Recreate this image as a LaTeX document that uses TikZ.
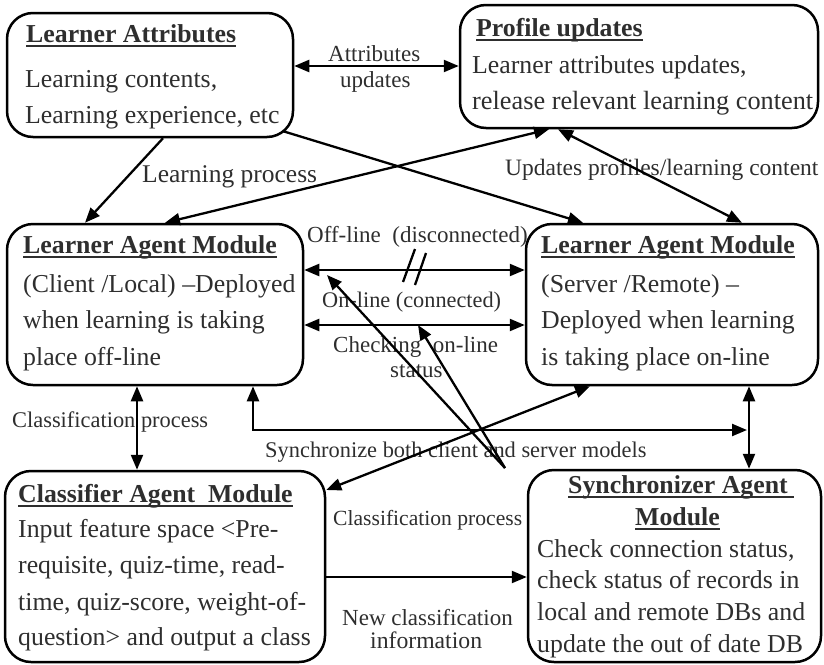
\documentclass[tikz,border=0pt]{standalone}
\usepackage{fontspec}
\setmainfont{Liberation Serif}
\usetikzlibrary{arrows.meta,calc}
\definecolor{inkgray}{gray}{0.18}
% bold heading with a flat underline just under the baseline
\newcommand\uhead[1]{\setbox0\hbox{\bfseries #1}\rlap{\rule[-4.6pt]{\wd0}{1.6pt}}\box0}
\tikzset{
  box/.style={draw, line width=2.5pt, rounded corners=26pt, rectangle, inner sep=0pt},
  tx/.style={anchor=base west, inner sep=0pt, text=inkgray, font=\fontsize{25.8}{30}\selectfont},
  lb/.style={anchor=base west, inner sep=0pt, text=inkgray, font=\fontsize{23}{28}\selectfont},
  link/.style={line width=2.3pt},
  oneway/.style={-{Triangle[length=15pt,width=12pt]}},
  twoway/.style={{Triangle[length=15pt,width=12pt]}-{Triangle[length=15pt,width=12pt]}}
}
\begin{document}
\begin{tikzpicture}[x=1pt,y=-1pt]
\useasboundingbox (0,0) rectangle (824,664);

% ---------- boxes ----------
\node[box, minimum width=286pt, minimum height=124pt] (la) at (150,75) {};
\node[box, minimum width=358pt, minimum height=123pt] (pu) at (639,66.5) {};
\node[box, minimum width=296pt, minimum height=161pt] (cl) at (155,304.5) {};
\node[box, minimum width=292pt, minimum height=161pt] (sv) at (672,304.5) {};
\node[box, minimum width=320pt, minimum height=191pt] (ca) at (165,566.5) {};
\node[box, minimum width=293pt, minimum height=192pt] (sy) at (674.5,566) {};

% ---------- box texts ----------
\node[tx] (la-h) at (26,42) {\uhead{Learner Attributes}};
\node[tx] (la-1) at (25,87) {Learning contents,};
\node[tx] (la-2) at (25,123) {Learning experience, etc};

\node[tx] (pu-h) at (476,36) {\uhead{Profile updates}};
\node[tx] (pu-1) at (472,73) {Learner attributes updates,};
\node[tx, font=\fontsize{26.3}{30}\selectfont] (pu-2) at (472,109) {release relevant learning content};

\node[tx] (cl-h) at (23,253) {\uhead{Learner Agent Module}};
\node[tx] (cl-1) at (23,292) {(Client /Local) --Deployed};
\node[tx] (cl-2) at (23,328) {when learning is taking};
\node[tx] (cl-3) at (23,365) {place off-line};

\node[tx] (sv-h) at (541,253) {\uhead{Learner Agent Module}};
\node[tx] (sv-1) at (541,292) {(Server /Remote) --};
\node[tx] (sv-2) at (541,328) {Deployed when learning};
\node[tx] (sv-3) at (541,365) {is taking place on-line};

\node[tx] (ca-h) at (18,502) {\uhead{Classifier Agent~~Module}};
\node[tx] (ca-1) at (18,537) {Input feature space <Pre-};
\node[tx] (ca-2) at (18,573) {requisite, quiz-time, read-};
\node[tx] (ca-3) at (18,610) {time, quiz-score, weight-of-};
\node[tx] (ca-4) at (18,645) {question> and output a class};

\node[tx] (sy-h1) at (568,493) {\uhead{Synchronizer Agent\ }};
\node[tx] (sy-h2) at (635,525) {\uhead{Module}};
\node[tx] (sy-1) at (537,557) {Check connection status,};
\node[tx] (sy-2) at (537,588) {check status of records in};
\node[tx] (sy-3) at (537,620) {local and remote DBs and};
\node[tx] (sy-4) at (537,652) {update the out of date DB};

% ---------- connector labels ----------
\node[lb] (l-attr1) at (328,61) {Attributes};
\node[lb] (l-attr2) at (340,87) {updates};
\node[lb, font=\fontsize{25.5}{30}\selectfont] (l-learn) at (142,182) {Learning process};
\node[lb, font=\fontsize{23.5}{28}\selectfont] (l-upd) at (505,175) {Updates profiles/learning content};
\node[lb] (l-off) at (307,242) {Off-line~~(disconnected)};
\node[lb, font=\fontsize{22.3}{28}\selectfont] (l-on) at (322,307) {On-line (connected)};
\node[lb] (l-chk1) at (333,352) {Checking~~on-line};
\node[lb] (l-chk2) at (390,377) {status};
\node[lb, font=\fontsize{22.4}{28}\selectfont] (l-cls1) at (12,427) {Classification process};
\node[lb, font=\fontsize{22.4}{28}\selectfont] (l-sync) at (265,457) {Synchronize both client and server models};
\node[lb, font=\fontsize{21.6}{28}\selectfont] (l-cls2) at (333,525) {Classification process};
\node[lb] (l-new1) at (342,625) {New classification};
\node[lb, font=\fontsize{23.7}{28}\selectfont] (l-new2) at (370,648) {information};

% ---------- connectors ----------
\draw[link, twoway] (la.east |- 0,66) -- (pu.west |- 0,66);
\draw[link, oneway] (la.south -| 163,0) -- (cl.north -| 85,0);
\draw[link, oneway] ([shift={(-11,-7)}]la.south east) -- (sv.north -| 583,0);
\draw[link, twoway] (cl.north -| 165,0) -- (pu.south -| 549,0);
\draw[link, twoway] (pu.south -| 558,0) -- (sv.north -| 742,0);

% off-line / on-line links, the off-line one marked as broken
\draw[link, twoway] (cl.east |- 0,270) -- (sv.west |- 0,270);
\draw[link, twoway] (cl.east |- 0,325) -- (sv.west |- 0,325);
\draw[link] (403,282) -- (415,249) (415,285) -- (426,253);

% status checks issued by the synchronizer
\coordinate (hub) at (505,468);
\coordinate (offtip) at (327,275);
\coordinate (ontip) at (418,325);
\draw[link, oneway] (hub) -- (offtip);
\draw[link, oneway] (hub) -- (ontip);

\draw[link, twoway] (ca.east |- 0,490) -- (sv.south -| 590,0);
\coordinate (syncend) at (747,430);
\draw[link, twoway] (cl.south -| 253,0) |- (syncend);
\draw[link, twoway] (sv.south -| 749,0) -- (sy.north -| 749,0);
\draw[link, twoway] (cl.south -| 137,0) -- (ca.north -| 137,0);
\draw[link, oneway] (ca.east |- 0,577) -- (sy.west |- 0,577);
\end{tikzpicture}
\end{document}
